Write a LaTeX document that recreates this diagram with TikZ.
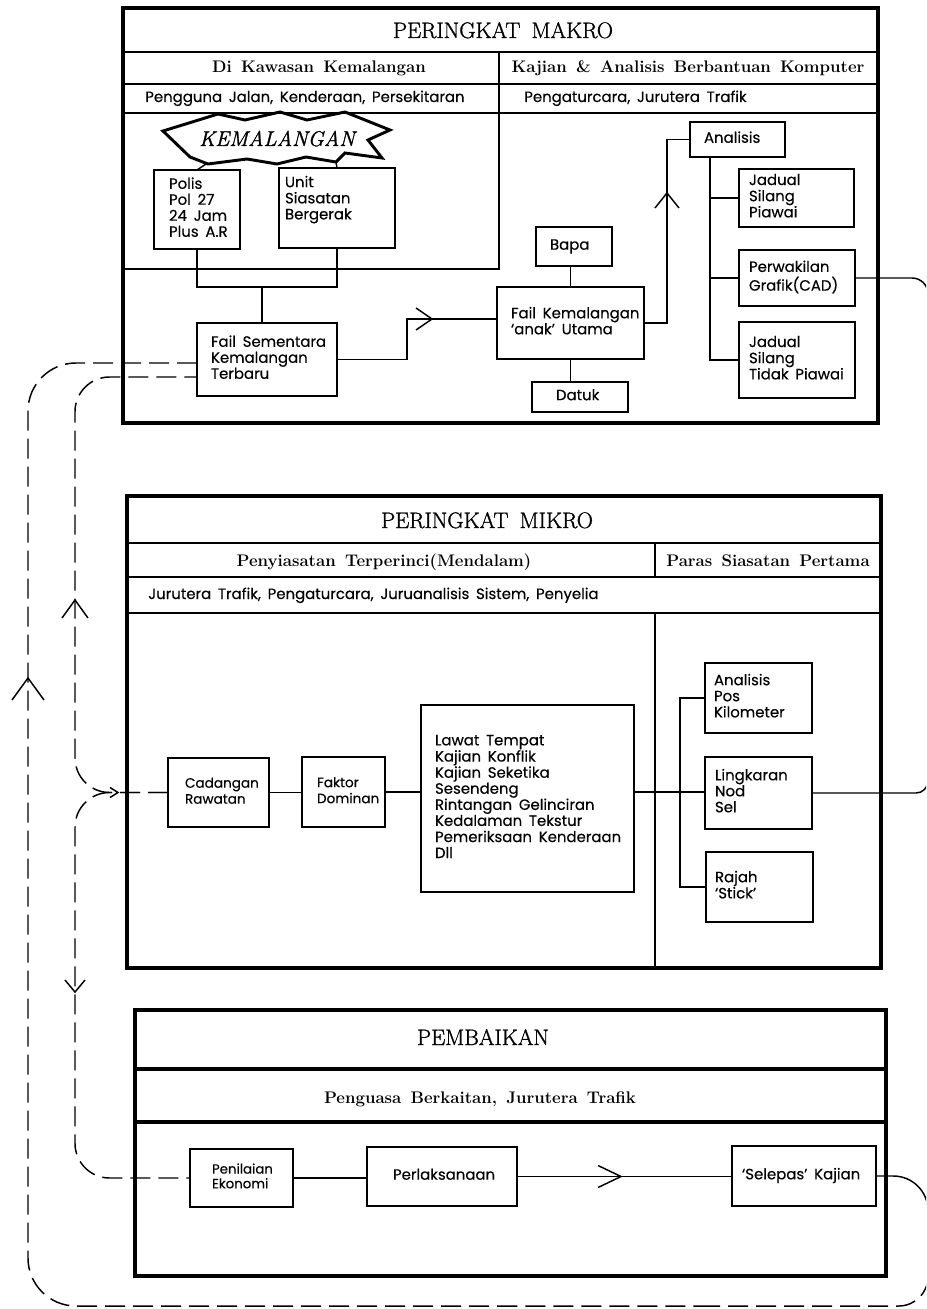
\documentclass[tikz,border=0pt]{standalone}
\usepackage{fontspec}
\newfontfamily\cad{Poppins}[FakeBold=0.3]
\newfontfamily\ttlfam{Latin Modern Roman}[FakeBold=1.2]
\newcommand\cadf{\cad\fontsize{11.2}{12}\selectfont\spaceskip 0.45em\relax}
\newcommand\cads{\cad\fontsize{10}{11}\selectfont\spaceskip 0.45em\relax}
\newcommand\cadm{\cad\fontsize{10.2}{12}\selectfont\spaceskip 0.45em\relax}
\newcommand\subf{\bfseries\fontsize{12.6}{14}\selectfont\spaceskip 0.55em\relax}
\newcommand\ttlf{\ttlfam\fontsize{16.8}{18}\selectfont}
\newcommand\kemf{\ttlfam\itshape\fontsize{16}{18}\selectfont}
\newcommand\bx[8][]{%
  \pgfmathsetmacro\bxw{(#5-#3)*0.75}%
  \pgfmathsetmacro\bxh{(#6-#4)*0.75}%
  \pgfmathsetmacro\bxt{(#5-#3-2*#7)*0.75}%
  \pgfmathsetmacro\bxi{#7*0.75}%
  \node[box, anchor=north west, minimum width=\bxw pt, minimum height=\bxh pt, inner xsep=\bxi pt, #1] (#2) at (#3,#4) {\makebox[\bxt pt][l]{\begin{tabular}{@{}l@{}}#8\end{tabular}}};}
\tikzset{pics/chev/.style args={#1/#2}{code={\draw[line width=1.1pt, line join=miter] (-#1,-#2) -- (0,0) -- (-#1,#2);}}}
\begin{document}
\begin{tikzpicture}[x=0.75pt,y=-0.75pt,
  outer/.style={line width=2.7pt},
  rowa/.style={line width=1.5pt},
  rowb/.style={line width=2.1pt},
  rowc/.style={line width=2.7pt},
  box/.style={draw, line width=1.1pt, outer sep=0pt, inner ysep=0pt, font=\cadf},
  conn/.style={line width=1.1pt},
  dsh/.style={line width=1.1pt, dash pattern=on 15pt off 6pt},
  ttl/.style={font=\ttlf, inner sep=0pt, anchor=base},
  sub/.style={font=\subf, inner sep=0pt, anchor=base},
  who/.style={font=\cadf, inner sep=0pt, anchor=base west},
]
\useasboundingbox (0,0) rectangle (926,1309);
\clip (0,0) rectangle (926,1309);

% ---------- MAKRO frame ----------
\draw[outer] (123,8) rectangle (878,423);
\draw[rowa] (123,52) -- (878,52) (123,84) -- (878,84) (123,113) -- (878,113);
\draw[rowa] (499,52) -- (499,269) -- (123,269);
\node[ttl] (tmak) at (503,38) {PERINGKAT\hspace{0.5em}MAKRO};
\node[sub] (sm1) at (319,73) {Di Kawasan Kemalangan};
\node[sub] (sm2) at (688,73) {Kajian \& Analisis Berbantuan Komputer};
\node[who] (wm1) at (145,102) {Pengguna Jalan, Kenderaan, Persekitaran};
\node[who] (wm2) at (524,102) {Pengaturcara, Jurutera Trafik};

% star
\draw[line width=2.2pt, line join=miter] (163,131) -- (218,114) -- (245,120) -- (280,112) -- (307,120) -- (345,112) -- (390,130) -- (368,140) -- (382,158) -- (345,153) -- (336,162) -- (306,157) -- (277,164) -- (247,159) -- (208,164) -- (190,157) -- cycle;
\node[font=\kemf, inner sep=0pt, anchor=base] (kem) at (277,146) {KEMALANGAN};

\bx{polis}{154}{170}{240}{249}{15}{Polis\\Pol 27\\24 Jam\\Plus A.R}
\bx{unit}{279}{168}{395}{248}{6}{Unit\\Siasatan\\Bergerak\\\mbox{}}
\bx{faiS}{197}{323}{337}{396}{14}{Fail Sementara\\Kemalangan\\Terbaru}
\bx{fkU}{497}{287}{644}{359}{14}{Fail Kemalangan\\‘anak’ Utama}
\bx{bapa}{536}{227}{612}{266}{14}{Bapa}
\bx{datuk}{532}{382}{628}{412}{24}{Datuk}
\bx{analisis}{690}{122}{785}{157}{14}{Analisis}
\bx{jsp}{739}{169}{854}{227}{10}{Jadual\\Silang\\Piawai}
\bx{pgc}{739}{250}{855}{306}{10}{Perwakilan\\Grafik(CAD)}
\bx{jstp}{739}{322}{855}{398}{10}{Jadual\\Silang\\Tidak Piawai}

\draw[conn] (polis.north) -- (206,164);
\draw[conn] (unit.north) -- (336,162);
\coordinate (j1) at (262,287);
\draw[conn] (polis.south) |- (j1) -| (unit.south);
\draw[conn] (j1) -- (j1 |- faiS.north);
\draw[conn] (faiS.east) -- (407,0 |- faiS.east) -- (407,319) -- (fkU.west |- 0,319);
\pic at (432,319) {chev={16/11}};
\draw[conn] (fkU.north) -- (fkU.north |- bapa.south);
\draw[conn] (fkU.south) -- (fkU.south |- datuk.north);
\draw[conn] (fkU.east) -- (667,0 |- fkU.east) -- (667,0 |- analisis.west) -- (analisis.west);
\pic[rotate=90] at (667,193) {chev={15/12}};
\draw[conn] (710,0 |- analisis.south) -- (710,0 |- jstp.west) -- (jstp.west);
\draw[conn] (710,0 |- jsp.west) -- (jsp.west);
\draw[conn] (710,0 |- pgc.west) -- (pgc.west);

% ---------- MIKRO frame ----------
\draw[outer] (127,496) rectangle (881,968);
\draw[rowb] (127,543) -- (881,543) (127,577) -- (881,577) (127,613) -- (881,613);
\draw[rowb] (655,543) -- (655,577);
\draw[conn] (655,613) -- (655,968);
\node[ttl] (tmik) at (487,528) {PERINGKAT\hspace{0.5em}MIKRO};
\node[sub] (sk1) at (384,566) {Penyiasatan Terperinci(Mendalam)};
\node[sub] (sk2) at (768,566) {Paras Siasatan Pertama};
\node[who] (wk1) at (148,599) {Jurutera Trafik, Pengaturcara, Juruanalisis Sistem, Penyelia};

\bx[font=\cadm]{cad}{168}{758}{269}{827}{17}{Cadangan\\Rawatan}
\bx[font=\cadm]{fak}{302}{757}{385}{827}{15}{Faktor\\Dominan}
\bx{lawat}{421}{705}{634}{892}{14}{Lawat Tempat\\Kajian Konflik\\Kajian Seketika\\Sesendeng\\Rintangan Gelinciran\\Kedalaman Tekstur\\Pemeriksaan Kenderaan\\Dll}
\bx{apk}{705}{663}{812}{733}{9}{Analisis\\Pos\\Kilometer}
\bx{lns}{705}{757}{812}{829}{10}{Lingkaran\\Nod\\Sel}
\bx{rajah}{706}{852}{813}{922}{9}{Rajah\\‘Stick’}

\draw[conn] (cad.east) -- (cad.east -| fak.west);
\draw[conn] (fak.east) -- (fak.east -| lawat.west);
\draw[conn] (lawat.east |- fak.east) -- (lns.west |- fak.east);
\draw[conn] (apk.west) -- (680,0 |- apk.west) -- (680,0 |- rajah.west) -- (rajah.west);

% ---------- PEMBAIKAN frame ----------
\draw[outer] (135,1010) rectangle (886,1276);
\draw[rowc] (135,1069) -- (886,1069) (135,1122) -- (886,1122);
\node[ttl] (tpem) at (483,1045) {PEMBAIKAN};
\node[sub] (sp1) at (480,1103) {Penguasa Berkaitan, Jurutera Trafik};

\bx[font=\cads]{pen}{190}{1149}{293}{1207}{22}{Penilaian\\Ekonomi}
\bx{perl}{367}{1147}{517}{1206}{26}{Perlaksanaan}
\bx{sel}{732}{1146}{876}{1206}{10}{‘Selepas’ Kajian}
\draw[conn] (pen.east) -- (pen.east -| perl.west);
\draw[conn] (perl.east) -- (perl.east -| sel.west);
\pic at (621,1176.5) {chev={23/11}};

% ---------- feedback loops ----------
\draw[dsh, rounded corners=26pt] (cad.west) -- (75,0 |- cad.west) -- (75,377) -- (faiS.west |- 0,377);
\draw[dsh, rounded corners=26pt] (cad.west) -- (75,0 |- cad.west) -- (75,0 |- pen.west) -- (pen.west);
\pic at (118,792.5) {chev={8/5}};
\pic[rotate=90] at (75,600) {chev={18/13}};
\pic[rotate=-90] at (75,992) {chev={12/10}};
\draw[dsh, rounded corners=36pt] (faiS.west |- 0,363) -- (28,363) -- (28,1306) -- (700,1306);
\draw[dsh, rounded corners=22pt] (700,1306) -- (928,1306) -- (928,1230);
\pic[rotate=90] at (28,678) {chev={22/16}};
\draw[conn, rounded corners=26pt] (sel.east) -- (928,0 |- sel.east) -- (928,1240);
\draw[conn, rounded corners=12pt] (pgc.east) -- (928,0 |- pgc.east) -- (928,500);
\draw[conn, rounded corners=9pt] (lns.east) -- (928,0 |- lns.east) -- (928,600);
\end{tikzpicture}
\end{document}
